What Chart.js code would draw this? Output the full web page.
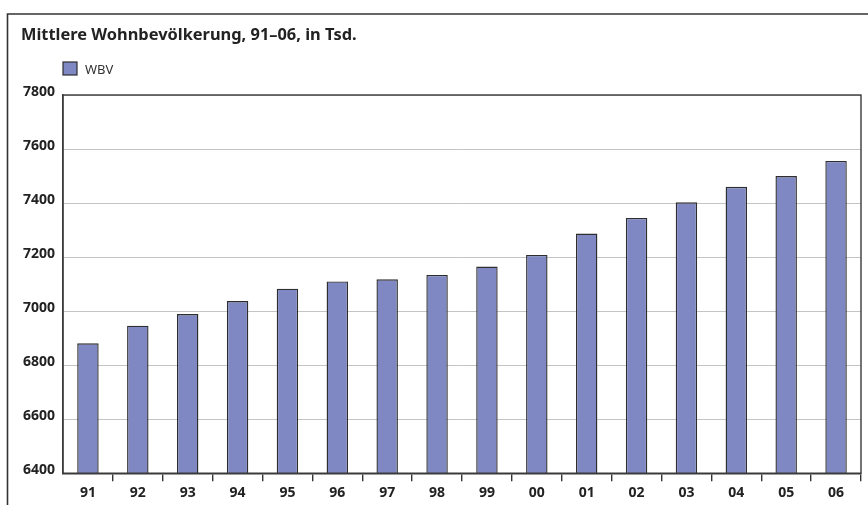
<!DOCTYPE html>
<html>
<head>
<meta charset="utf-8">
<title>Mittlere Wohnbevölkerung</title>
<script src="https://cdn.jsdelivr.net/npm/chart.js@4/dist/chart.umd.min.js"></script>
<style>
    html, body { margin: 0; padding: 0; background: #fff; }
    #myChart { display: block; }
</style>
</head>
<body>
<canvas id="myChart" width="868" height="505"></canvas>
<script>
const chartTitle = "Mittlere Wohnbevölkerung, 91–06, in Tsd.";
const seriesName = "WBV";
// years (two-digit labels on the x axis)
const years = ["91", "92", "93", "94", "95", "96", "97", "98",
               "99", "00", "01", "02", "03", "04", "05", "06"];
// mean resident population, thousands
const wbv = [6881, 6946, 6989, 7037, 7083, 7110, 7118, 7134,
             7165, 7208, 7287, 7345, 7403, 7460, 7500, 7556];
// y axis ticks
const yTicks = [6400, 6600, 6800, 7000, 7200, 7400, 7600, 7800];

const barColor = "#7f88c2";
const edgeColor = "#2e2e2e";
const labelFont = "'Noto Sans', Lato, sans-serif";

// outer frame, title, legend and the box round the plot
const framePlugin = {
    id: "frame",
    beforeDraw(chart) {
        const ctx = chart.ctx;
        ctx.save();
        ctx.strokeStyle = "#333";
        ctx.lineWidth = 1.6;
        ctx.beginPath();
        ctx.moveTo(7.5, chart.height);
        ctx.lineTo(7.5, 14);
        ctx.lineTo(chart.width, 14);
        ctx.stroke();

        ctx.fillStyle = "#222";
        ctx.font = "bold 16.4px " + labelFont;
        ctx.textBaseline = "alphabetic";
        ctx.fillText(chartTitle, 21, 40);

        const ds = chart.data.datasets[0];
        ctx.fillStyle = ds.backgroundColor;
        ctx.fillRect(63, 62, 14, 13);
        ctx.strokeStyle = edgeColor;
        ctx.lineWidth = 1.2;
        ctx.strokeRect(63, 62, 14, 13);
        ctx.fillStyle = "#333";
        ctx.font = "13px " + labelFont;
        ctx.fillText(ds.label, 85, 73.5);
        ctx.restore();
    },
    afterDraw(chart) {
        const a = chart.chartArea;
        const ctx = chart.ctx;
        ctx.save();
        ctx.strokeStyle = "#3a3a3a";
        ctx.lineWidth = 1.4;
        ctx.strokeRect(a.left, a.top, a.right - a.left, a.bottom - a.top);
        ctx.restore();
    }
};

function printTheChart() {
    const ctx = document.getElementById("myChart").getContext("2d");
    new Chart(ctx, {
        type: "bar",
        data: {
            labels: years,
            datasets: [
                {
                    label: seriesName,
                    data: wbv,
                    backgroundColor: barColor,
                    borderColor: edgeColor,
                    borderWidth: 1.4,
                    borderSkipped: false,
                    barPercentage: 0.43,
                    categoryPercentage: 1
                }
            ]
        },
        options: {
            responsive: false,
            animation: false,
            layout: { padding: { top: 95, left: 21, right: 7, bottom: 0 } },
            plugins: {
                legend: { display: false },
                title: { display: false },
                tooltip: { enabled: false }
            },
            scales: {
                x: {
                    offset: true,
                    grid: {
                        offset: true,
                        drawOnChartArea: false,
                        drawTicks: true,
                        tickLength: 8,
                        lineWidth: 1.4,
                        color: c => (c.index === 0 || c.index >= years.length) ? "rgba(0,0,0,0)" : "#333"
                    },
                    border: { display: true, color: "#3a3a3a", width: 1.4 },
                    ticks: {
                        color: "#222",
                        padding: 3.5,
                        maxRotation: 0,
                        font: { family: labelFont, size: 14, weight: "bold" }
                    }
                },
                y: {
                    min: yTicks[0],
                    max: yTicks[yTicks.length - 1],
                    afterBuildTicks: axis => {
                        axis.ticks = yTicks.map(v => ({ value: v }));
                    },
                    afterFit: axis => { axis.width = 42; },
                    grid: {
                        color: "#c4c4c4",
                        lineWidth: 1,
                        drawTicks: false
                    },
                    border: { display: true, color: "#3a3a3a", width: 1.4 },
                    ticks: {
                        color: "#222",
                        padding: 8,
                        labelOffset: -3,
                        callback: value => String(value),
                        font: { family: labelFont, size: 14, weight: "bold" }
                    }
                }
            }
        },
        plugins: [framePlugin]
    });
}

printTheChart();
</script>
</body>
</html>
